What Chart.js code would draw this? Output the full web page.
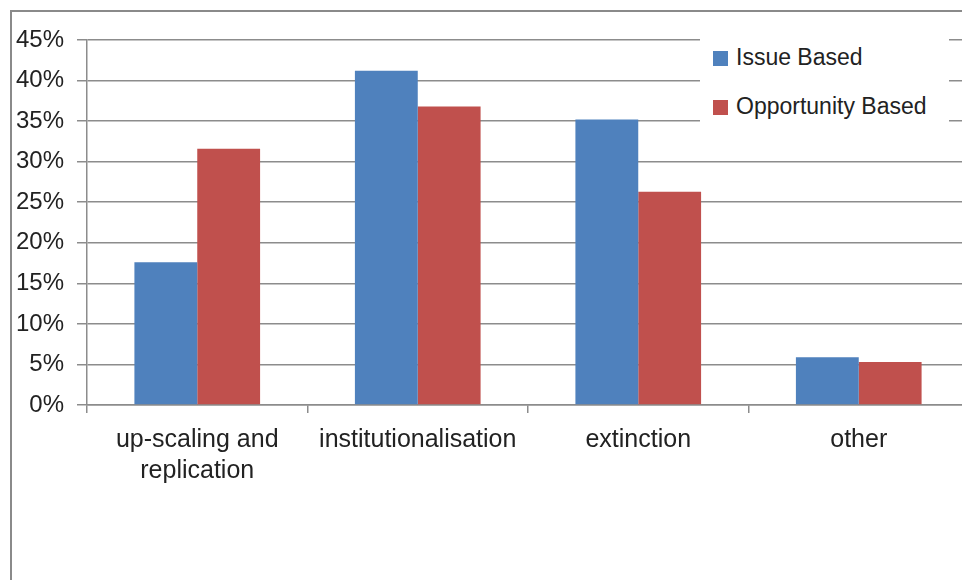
<!DOCTYPE html>
<html lang="en">
    <head>
        <meta charset="utf-8">
        <title>Outcomes by initiative type</title>
        <script type="text/javascript" src="https://cdn.jsdelivr.net/npm/chart.js@4.4.1/dist/chart.umd.min.js"></script>
        <style>
            html, body { margin: 0; padding: 0; width: 962px; height: 580px; overflow: hidden; background: #fff; }
            #frame { position: absolute; left: 10px; top: 10px; width: 1000px; height: 620px; border: 2px solid #8a8a8a; }
            #wrap { position: absolute; left: 0; top: 0; width: 980px; height: 580px; }
            #legend { position: absolute; left: 700px; top: 30px; width: 249px; height: 110px; background: #fff;
                      font-family: "Liberation Sans", Arial, sans-serif; font-size: 23px; color: #222; }
            .row { position: absolute; left: 13px; height: 28px; line-height: 28px; white-space: nowrap; }
            .sw { display: inline-block; width: 15px; height: 15px; margin-right: 8px; vertical-align: -1px; }
        </style>
    </head>
    <body>
        <div id="frame"></div>
        <div id="wrap">
            <canvas id="bars" width="980" height="580"></canvas>
        </div>
        <div id="legend"></div>

        <script type="text/javascript">

        // categories and values (percent)
        var categories = [['up-scaling and', 'replication'], 'institutionalisation', 'extinction', 'other'];
        var seriesNames = ['Issue Based', 'Opportunity Based'];
        var issueBased = [17.6, 41.2, 35.2, 5.9];
        var opportunityBased = [31.6, 36.8, 26.3, 5.3];
        var seriesColors = ['#4F81BD', '#C0504D'];

        var gridColor = '#8c8c8c';
        var labelFont = { family: '"Liberation Sans", Arial, sans-serif', size: 24 };

        var _datasets = [issueBased, opportunityBased].map(function (vals, i) {
            return {
                label: seriesNames[i],
                data: vals,
                backgroundColor: seriesColors[i],
                borderWidth: 0,
                categoryPercentage: 0.57,
                barPercentage: 1.0,
            };
        });

        // legend as html so it can sit over the grid like the original
        var lg = document.getElementById('legend');
        _datasets.forEach(function (ds, i) {
            var row = document.createElement('div');
            row.className = 'row';
            row.style.top = (13 + i * 49) + 'px';
            row.innerHTML = '<span class="sw" style="background:' + ds.backgroundColor + '"></span>' + ds.label;
            lg.appendChild(row);
        });

        var ctx = document.getElementById('bars').getContext('2d');
        new Chart(ctx, {
            type: 'bar',
            data: {
                labels: categories,
                datasets: _datasets,
            },
            options: {
                responsive: false,
                animation: false,
                devicePixelRatio: 1,
                layout: { padding: { left: 14, right: 11, top: 40, bottom: 0 } },
                plugins: {
                    legend: { display: false },
                    tooltip: { enabled: false },
                },
                scales: {
                    x: {
                        afterFit: function (s) { s.height = 175; },
                        grid: {
                            offset: true,
                            drawOnChartArea: false,
                            color: gridColor,
                            lineWidth: 1.5,
                            tickLength: 8,
                        },
                        border: { color: gridColor, width: 1.5 },
                        ticks: {
                            color: '#222',
                            padding: 11,
                            maxRotation: 0,
                            autoSkip: false,
                            font: { family: labelFont.family, size: 25, lineHeight: 1.25 },
                        },
                    },
                    y: {
                        min: 0,
                        max: 45,
                        afterFit: function (s) { s.width = 73; },
                        grid: {
                            color: gridColor,
                            lineWidth: 1.5,
                            tickLength: 10,
                        },
                        border: { color: gridColor, width: 1.5 },
                        ticks: {
                            stepSize: 5,
                            color: '#222',
                            padding: 13,
                            font: labelFont,
                            callback: function (v) { return v + '%'; },
                        },
                    },
                },
            },
        });
        </script>
    </body>
</html>
